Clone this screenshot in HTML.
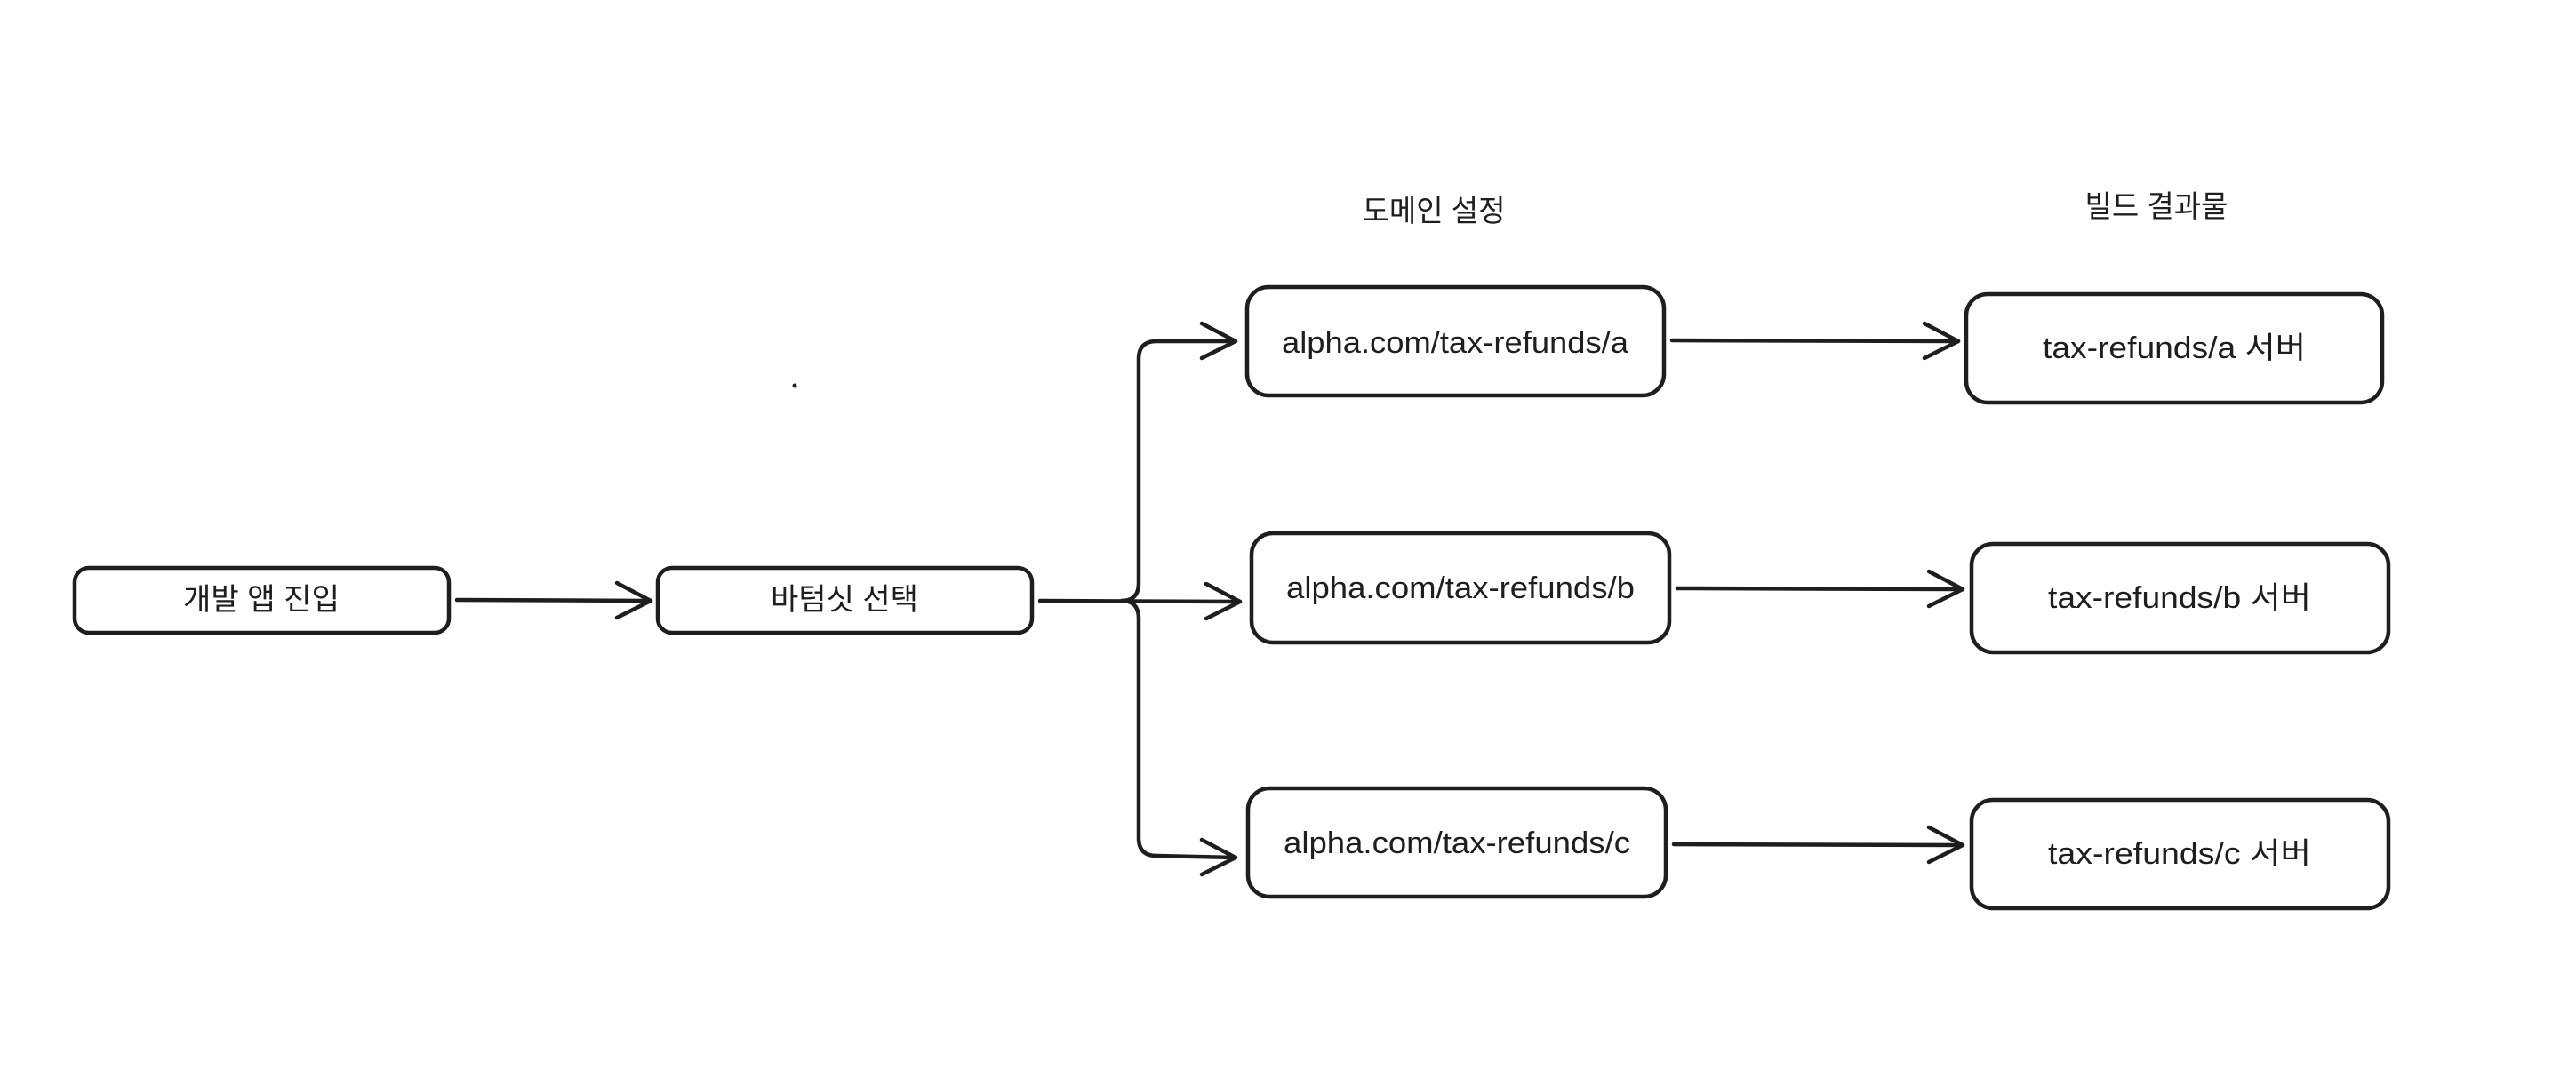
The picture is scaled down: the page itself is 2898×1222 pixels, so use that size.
<!DOCTYPE html>
<html><head><meta charset="utf-8"><style>
html,body{margin:0;padding:0;background:#fff;}
svg{display:block;}
text{font-family:"Liberation Sans","Noto Sans CJK KR",sans-serif;font-size:34px;fill:#1e1e1e;text-anchor:middle;dominant-baseline:central;}
</style></head><body>
<svg width="2898" height="1222" viewBox="0 0 2898 1222" xmlns="http://www.w3.org/2000/svg">
<g fill="none" stroke="#1e1e1e" stroke-width="4.5" stroke-linecap="round" stroke-linejoin="round">
<rect x="84" y="639" width="421" height="73" rx="16"/>
<rect x="740" y="639" width="421" height="73" rx="16"/>
<rect x="1403" y="323" width="469" height="122" rx="24"/>
<rect x="1408" y="600" width="470" height="123" rx="24"/>
<rect x="1404" y="887" width="470" height="122" rx="24"/>
<rect x="2212" y="331" width="468" height="122" rx="24"/>
<rect x="2218" y="612" width="469" height="122" rx="24"/>
<rect x="2218" y="900" width="469" height="122" rx="24"/>
<path d="M514 675 L732 676"/><path d="M694 656 L732 676 L694 695"/>
<path d="M1170 676 L1395 677"/><path d="M1357 657 L1395 677 L1357 696"/>
<path d="M1262 676 Q1281 676 1281 656 L1281 404 Q1281 384 1301 384 L1390 384"/><path d="M1352 364 L1390 384 L1352 403"/>
<path d="M1262 676 Q1281 676 1281 696 L1281 943 Q1281 963 1301 963 L1390 965"/><path d="M1352 945 L1390 965 L1352 984"/>
<path d="M1881 383 L2203 384"/><path d="M2165 364 L2203 384 L2165 403"/>
<path d="M1887 662 L2208 663"/><path d="M2170 643 L2208 663 L2170 682"/>
<path d="M1883 950 L2208 951"/><path d="M2170 931 L2208 951 L2170 970"/>
</g>
<circle cx="894" cy="434" r="2.5" fill="#1e1e1e"/>
<text x="294" y="675" textLength="176" lengthAdjust="spacingAndGlyphs">개발 앱 진입</text>
<text x="950" y="675" textLength="166" lengthAdjust="spacingAndGlyphs">바텀싯 선택</text>
<text x="1613" y="238" textLength="161" lengthAdjust="spacingAndGlyphs">도메인 설정</text>
<text x="2426" y="233" textLength="161" lengthAdjust="spacingAndGlyphs">빌드 결과물</text>
<text x="1637" y="386" textLength="390" lengthAdjust="spacingAndGlyphs">alpha.com/tax-refunds/a</text>
<text x="1643" y="662" textLength="392" lengthAdjust="spacingAndGlyphs">alpha.com/tax-refunds/b</text>
<text x="1639" y="949" textLength="390" lengthAdjust="spacingAndGlyphs">alpha.com/tax-refunds/c</text>
<text x="2446" y="392" textLength="296" lengthAdjust="spacingAndGlyphs">tax-refunds/a 서버</text>
<text x="2452" y="673" textLength="296" lengthAdjust="spacingAndGlyphs">tax-refunds/b 서버</text>
<text x="2452" y="961" textLength="296" lengthAdjust="spacingAndGlyphs">tax-refunds/c 서버</text>
</svg>
</body></html>
